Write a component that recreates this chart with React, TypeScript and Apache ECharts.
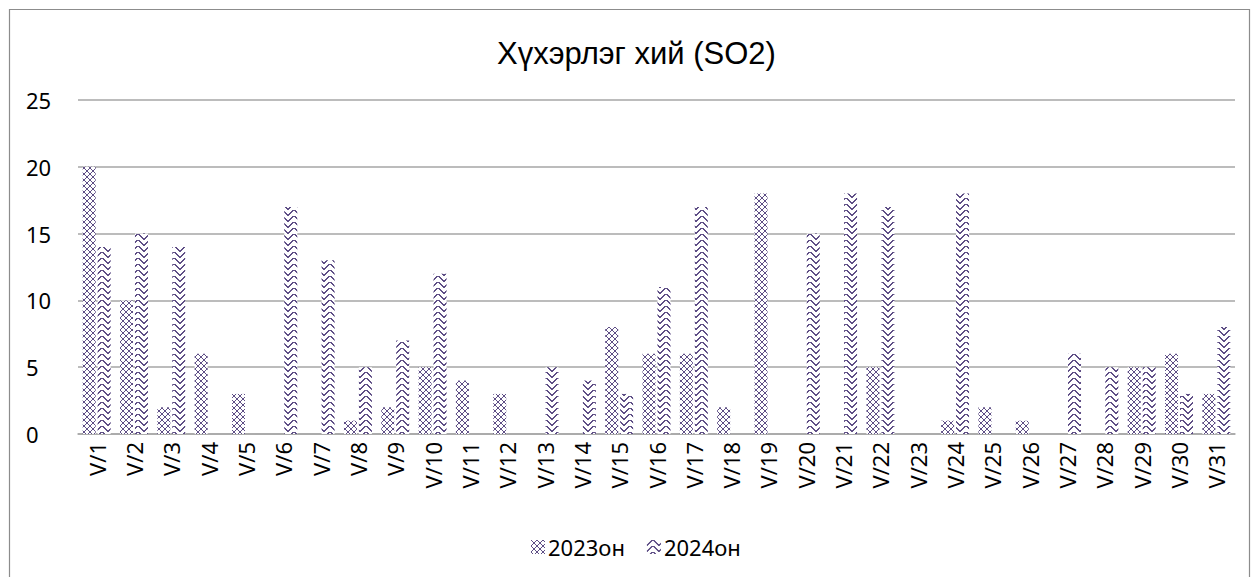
import React, { useEffect, useRef } from 'react';
import * as echarts from 'echarts';

const categories = [
  'V/1', 'V/2', 'V/3', 'V/4', 'V/5', 'V/6', 'V/7', 'V/8', 'V/9', 'V/10',
  'V/11', 'V/12', 'V/13', 'V/14', 'V/15', 'V/16', 'V/17', 'V/18', 'V/19', 'V/20',
  'V/21', 'V/22', 'V/23', 'V/24', 'V/25', 'V/26', 'V/27', 'V/28', 'V/29', 'V/30', 'V/31',
];
const values2023 = [20, 10, 2, 6, 3, 0, 0, 1, 2, 5, 4, 3, 0, 0, 8, 6, 6, 2, 18, 0, 0, 5, 0, 1, 2, 1, 0, 0, 5, 6, 3];
const values2024 = [14, 15, 14, 0, 0, 17, 13, 5, 7, 12, 0, 0, 5, 4, 3, 11, 17, 0, 0, 15, 18, 17, 0, 18, 0, 0, 6, 5, 5, 3, 8];
const seriesNames = ['2023он', '2024он'];
const yTicks = { min: 0, max: 25, interval: 5 };
const titleText = 'Хүхэрлэг хий (SO2)';

const PURPLE = '#5f4f86';

function makeTile(rows: string[]) {
  const h = rows.length;
  const w = rows[0].length;
  const c = document.createElement('canvas');
  c.width = w;
  c.height = h;
  const ctx = c.getContext('2d')!;
  ctx.fillStyle = '#ffffff';
  ctx.fillRect(0, 0, w, h);
  ctx.fillStyle = PURPLE;
  rows.forEach((r, y) => {
    for (let x = 0; x < w; x++) if (r[x] === 'X') ctx.fillRect(x, y, 1, 1);
  });
  return { image: c, repeat: 'repeat', imageWidth: w, imageHeight: h } as any;
}

const tile2023 = [
  'X....X',
  '.X..X.',
  '..XX..',
  '..XX..',
  '.X..X.',
  'X....X',
];
const tile2024 = [
  '....XXXX....',
  '...XX..XX...',
  '..XX....XX..',
  '.XX......XX.',
  'XX........XX',
  'X..........X',
];

export default function App() {
  const ref = useRef<HTMLDivElement>(null);
  useEffect(() => {
    if (!ref.current) return;
    const chart = echarts.init(ref.current, undefined, { renderer: 'svg' });
    const p2023 = makeTile(tile2023);
    const p2024 = makeTile(tile2024);
    const font = 'Noto Sans';
    chart.setOption({
      animation: false,
      backgroundColor: '#ffffff',
      title: {
        text: titleText,
        left: 492,
        top: 33,
        textStyle: { fontFamily: 'Liberation Sans', fontSize: 31, fontWeight: 'normal', color: '#000' },
      },
      legend: {
        data: seriesNames,
        left: 526,
        top: 531,
        itemWidth: 14,
        itemHeight: 14,
        itemGap: 22,
        icon: 'rect',
        textStyle: { fontFamily: font, fontSize: 22, color: '#000', padding: [0, 0, 0, -2] },
      },
      grid: { left: 78, right: 17, top: 100, bottom: 143, containLabel: false },
      xAxis: {
        type: 'category',
        data: categories,
        axisLine: { show: true, lineStyle: { color: '#a6a6a6', width: 1.5 } },
        axisTick: { show: false },
        axisLabel: { rotate: 90, margin: 8, fontFamily: font, fontSize: 22, color: '#000', interval: 0 },
      },
      yAxis: {
        type: 'value',
        min: yTicks.min,
        max: yTicks.max,
        interval: yTicks.interval,
        axisLine: { show: false },
        axisTick: { show: false },
        splitLine: { lineStyle: { color: '#a6a6a6', width: 1.5 } },
        axisLabel: { align: 'left', margin: 52, fontFamily: font, fontSize: 22, color: '#000' },
      },
      graphic: [
        {
          type: 'rect',
          shape: { x: 9.5, y: 9.5, width: 1240, height: 575 },
          style: { fill: 'none', stroke: '#8c8c8c', lineWidth: 1.2 },
          silent: true,
        },
      ],
      series: [
        {
          name: seriesNames[0],
          type: 'bar',
          data: values2023,
          barWidth: 13,
          barGap: '15%',
          itemStyle: { color: p2023 },
        },
        {
          name: seriesNames[1],
          type: 'bar',
          data: values2024,
          barWidth: 13,
          barGap: '15%',
          itemStyle: { color: p2024 },
        },
      ],
    });
    return () => chart.dispose();
  }, []);
  return <div ref={ref} style={{ position: 'fixed', left: 0, top: 0, width: 1252, height: 577 }} />;
}
